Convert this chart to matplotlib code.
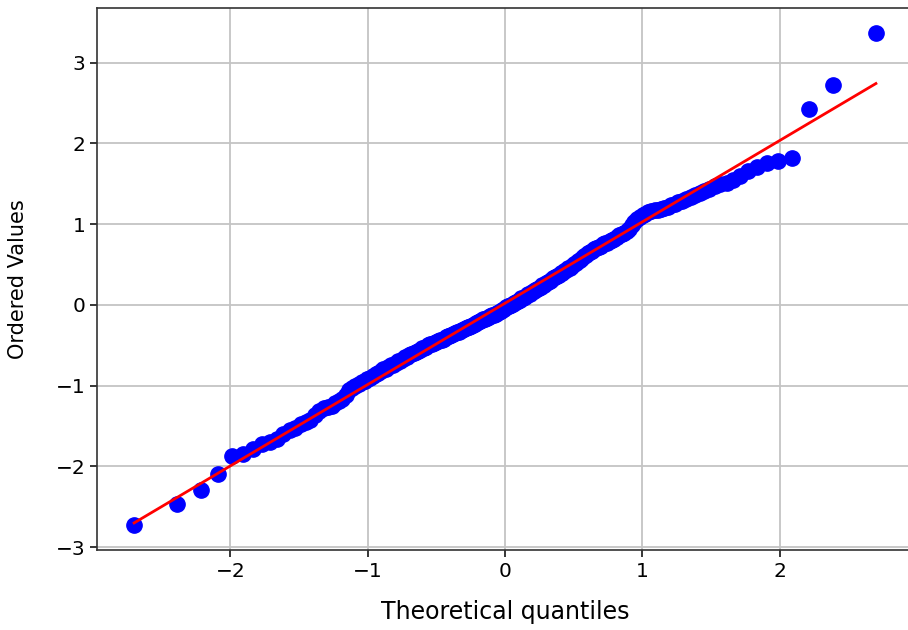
import matplotlib
matplotlib.use("Agg")
import matplotlib.pyplot as plt

# theoretical normal quantiles (n = 200)
theoretical_neg = [
    -2.701, -2.391, -2.215, -2.088, -1.989, -1.905, -1.834, -1.770, -1.713, -1.661,
    -1.614, -1.569, -1.528, -1.489, -1.452, -1.417, -1.383, -1.352, -1.321, -1.292,
    -1.263, -1.236, -1.210, -1.184, -1.159, -1.135, -1.112, -1.089, -1.066, -1.044,
    -1.023, -1.002, -0.982, -0.962, -0.942, -0.923, -0.904, -0.885, -0.867, -0.849,
    -0.831, -0.813, -0.796, -0.779, -0.762, -0.745, -0.729, -0.713, -0.697, -0.681,
    -0.665, -0.650, -0.634, -0.619, -0.604, -0.589, -0.574, -0.560, -0.545, -0.531,
    -0.516, -0.502, -0.488, -0.474, -0.460, -0.446, -0.432, -0.418, -0.405, -0.391,
    -0.378, -0.364, -0.351, -0.338, -0.325, -0.311, -0.298, -0.285, -0.272, -0.259,
    -0.246, -0.234, -0.221, -0.208, -0.195, -0.182, -0.170, -0.157, -0.144, -0.132,
    -0.119, -0.107, -0.094, -0.081, -0.069, -0.056, -0.044, -0.031, -0.019, -0.006,
]
theoretical_pos = [
    0.006, 0.019, 0.031, 0.044, 0.056, 0.069, 0.081, 0.094, 0.107, 0.119,
    0.132, 0.144, 0.157, 0.170, 0.182, 0.195, 0.208, 0.221, 0.234, 0.246,
    0.259, 0.272, 0.285, 0.298, 0.311, 0.325, 0.338, 0.351, 0.364, 0.378,
    0.391, 0.405, 0.418, 0.432, 0.446, 0.460, 0.474, 0.488, 0.502, 0.516,
    0.531, 0.545, 0.560, 0.574, 0.589, 0.604, 0.619, 0.634, 0.650, 0.665,
    0.681, 0.697, 0.713, 0.729, 0.745, 0.762, 0.779, 0.796, 0.813, 0.831,
    0.849, 0.867, 0.885, 0.904, 0.923, 0.942, 0.962, 0.982, 1.002, 1.023,
    1.044, 1.066, 1.089, 1.112, 1.135, 1.159, 1.184, 1.210, 1.236, 1.263,
    1.292, 1.321, 1.352, 1.383, 1.417, 1.452, 1.489, 1.528, 1.569, 1.614,
    1.661, 1.713, 1.770, 1.834, 1.905, 1.989, 2.088, 2.215, 2.391, 2.701,
]

# ordered sample values
ordered_neg = [
    -2.73, -2.46, -2.29, -2.09, -1.87, -1.85, -1.79, -1.72, -1.70, -1.66,
    -1.60, -1.55, -1.52, -1.48, -1.45, -1.42, -1.36, -1.31, -1.28, -1.26,
    -1.25, -1.22, -1.19, -1.16, -1.12, -1.06, -1.03, -1.00, -0.98, -0.96,
    -0.94, -0.92, -0.90, -0.88, -0.86, -0.84, -0.82, -0.80, -0.79, -0.77,
    -0.75, -0.74, -0.72, -0.70, -0.69, -0.67, -0.65, -0.64, -0.62, -0.61,
    -0.60, -0.58, -0.57, -0.56, -0.54, -0.53, -0.52, -0.50, -0.49, -0.48,
    -0.47, -0.46, -0.45, -0.44, -0.43, -0.42, -0.40, -0.39, -0.38, -0.37,
    -0.36, -0.35, -0.34, -0.33, -0.32, -0.31, -0.30, -0.29, -0.28, -0.27,
    -0.26, -0.25, -0.24, -0.22, -0.21, -0.20, -0.19, -0.18, -0.17, -0.16,
    -0.15, -0.14, -0.13, -0.12, -0.11, -0.10, -0.09, -0.07, -0.06, -0.05,
]
ordered_pos = [
    -0.03, -0.02, -0.01, 0.00, 0.01, 0.02, 0.04, 0.05, 0.06, 0.08,
    0.09, 0.10, 0.12, 0.13, 0.14, 0.16, 0.17, 0.18, 0.20, 0.21,
    0.22, 0.24, 0.25, 0.27, 0.28, 0.30, 0.31, 0.33, 0.34, 0.36,
    0.37, 0.39, 0.40, 0.42, 0.43, 0.45, 0.46, 0.48, 0.50, 0.52,
    0.54, 0.56, 0.58, 0.60, 0.62, 0.64, 0.66, 0.67, 0.69, 0.70,
    0.72, 0.73, 0.75, 0.76, 0.77, 0.79, 0.80, 0.82, 0.84, 0.86,
    0.88, 0.89, 0.91, 0.94, 0.99, 1.03, 1.06, 1.09, 1.11, 1.13,
    1.15, 1.16, 1.17, 1.18, 1.19, 1.20, 1.21, 1.23, 1.25, 1.27,
    1.29, 1.31, 1.33, 1.36, 1.39, 1.41, 1.44, 1.47, 1.49, 1.51,
    1.54, 1.59, 1.66, 1.71, 1.75, 1.78, 1.82, 2.42, 2.72, 3.37,
]

# least-squares fit line
fit_slope = 1.007
fit_intercept = 0.02

osm = theoretical_neg + theoretical_pos
osr = ordered_neg + ordered_pos

fig = plt.figure(figsize=(9.08, 6.30), dpi=100)
ax = fig.add_axes([97 / 908, 80 / 630, 816 / 908, 542 / 630])

ax.plot(osm, osr, 'bo', markersize=11)
ends = [osm[0], osm[-1]]
ax.plot(ends, [fit_slope * x + fit_intercept for x in ends], 'r-', linewidth=2)

ax.set_xlabel('Theoretical quantiles', fontsize=17, labelpad=14)
ax.set_ylabel('Ordered Values', fontsize=15, labelpad=20)
ax.tick_params(labelsize=14.5, length=5, width=1.1)
ax.grid(True, color='#c4c4c4', linewidth=1.3)
for s in ax.spines.values():
    s.set_linewidth(1.2)
    s.set_color('#333333')

fig.savefig('out.png')
